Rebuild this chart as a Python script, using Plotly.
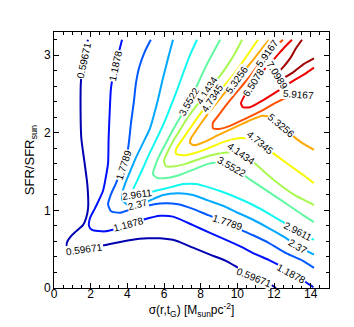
import plotly.graph_objects as go

# contour levels and their printed labels
levels = [0.59671, 1.1878, 1.7789, 2.37, 2.9611, 3.5522, 4.1434, 4.7345, 5.3256, 5.9167, 6.5078, 7.0989]
level_text = ["0.59671", "1.1878", "1.7789", "2.37", "2.9611", "3.5522", "4.1434", "4.7345", "5.3256", "5.9167", "6.5078", "7.0989"]

# contour paths (sigma, SFR), one per level
c1_x = [1.85, 1.69, 1.58, 1.47, 1.45, 1.49, 1.67, 1.82, 1.86, 1.75, 1.58, 1.20, 0.93, 0.71, 0.71, 0.98, 1.64, 2.51, 3.33, 4.20, 5.13, 5.78, 6.66, 7.58, 8.51, 9.38, 10.04, 10.91, 11.78, 12.11]
c1_y = [3.20, 3.03, 2.90, 2.67, 2.28, 1.93, 1.61, 1.33, 1.03, 0.90, 0.81, 0.73, 0.67, 0.59, 0.52, 0.48, 0.49, 0.54, 0.58, 0.62, 0.64, 0.64, 0.61, 0.52, 0.43, 0.35, 0.26, 0.14, 0.05, 0.00]

c2_x = [3.71, 3.55, 3.33, 3.11, 3.04, 2.98, 2.95, 2.85, 2.67, 2.24, 1.96, 1.91, 2.07, 2.78, 3.33, 4.04, 4.86, 5.78, 6.49, 7.58, 8.51, 9.38, 10.31, 10.86, 11.73, 12.22, 12.93, 13.64, 14.02, 14.15]
c2_y = [3.20, 3.05, 2.86, 2.58, 2.28, 1.93, 1.61, 1.46, 1.25, 1.03, 0.90, 0.80, 0.75, 0.73, 0.76, 0.82, 0.88, 0.93, 0.92, 0.81, 0.71, 0.62, 0.52, 0.45, 0.36, 0.30, 0.19, 0.09, 0.03, 0.01]

c3_x = [5.28, 4.96, 4.64, 4.47, 4.36, 4.20, 4.13, 4.04, 3.82, 3.60, 3.38, 3.11, 2.95, 3.11, 3.60, 4.15, 4.86, 5.78, 6.77, 7.58, 8.40, 9.49, 10.20, 10.86, 11.73, 12.66, 13.58, 14.18]
c3_y = [3.20, 3.05, 2.84, 2.64, 2.41, 2.13, 1.97, 1.80, 1.61, 1.48, 1.35, 1.21, 1.08, 0.99, 0.97, 1.01, 1.05, 1.09, 1.08, 1.02, 0.94, 0.84, 0.75, 0.68, 0.58, 0.45, 0.35, 0.26]

c4_x = [6.49, 6.22, 5.95, 5.62, 5.24, 4.86, 4.47, 4.15, 3.87, 3.71, 3.76, 4.09, 4.69, 5.24, 5.95, 6.77, 7.58, 8.40, 9.22, 9.93, 10.86, 11.73, 12.55, 13.31, 14.18]
c4_y = [3.20, 2.96, 2.71, 2.38, 2.06, 1.87, 1.68, 1.50, 1.34, 1.21, 1.12, 1.07, 1.07, 1.13, 1.20, 1.22, 1.20, 1.13, 1.06, 0.98, 0.88, 0.77, 0.66, 0.54, 0.43]

c5_x = [7.80, 7.47, 7.09, 6.71, 6.33, 5.95, 5.57, 5.18, 4.86, 4.53, 4.31, 4.26, 4.53, 5.02, 5.67, 6.38, 7.04, 7.75, 8.40, 9.17, 9.93, 10.86, 11.78, 12.55, 13.31, 14.18]
c5_y = [3.20, 3.03, 2.80, 2.55, 2.32, 2.10, 1.91, 1.72, 1.55, 1.38, 1.27, 1.22, 1.21, 1.22, 1.26, 1.30, 1.34, 1.34, 1.30, 1.24, 1.17, 1.07, 0.95, 0.84, 0.73, 0.62]

c6_x = [9.06, 8.67, 8.29, 7.86, 7.36, 6.93, 6.49, 6.11, 5.73, 5.51, 5.40, 5.62, 6.22, 6.88, 7.64, 8.40, 9.06, 9.66, 10.31, 11.13, 11.95, 12.77, 13.58, 14.18]
c6_y = [3.20, 3.03, 2.86, 2.64, 2.41, 2.22, 2.04, 1.87, 1.70, 1.57, 1.47, 1.42, 1.42, 1.46, 1.53, 1.60, 1.61, 1.56, 1.46, 1.33, 1.20, 1.07, 0.94, 0.85]

c7_x = [10.26, 9.88, 9.38, 8.84, 8.35, 7.86, 7.36, 6.93, 6.49, 6.17, 6.00, 6.11, 6.60, 7.31, 8.13, 8.95, 9.60, 10.20, 10.75, 11.46, 12.22, 13.04, 14.18]
c7_y = [3.20, 3.03, 2.84, 2.67, 2.54, 2.38, 2.22, 2.06, 1.89, 1.74, 1.64, 1.57, 1.57, 1.61, 1.68, 1.73, 1.75, 1.74, 1.65, 1.50, 1.35, 1.21, 1.07]

c8_x = [11.13, 10.80, 10.37, 9.82, 9.22, 8.67, 8.18, 7.75, 7.31, 6.93, 6.66, 6.66, 7.04, 7.69, 8.40, 9.22, 10.04, 10.75, 11.24, 11.67, 12.28, 13.04, 13.69, 14.18]
c8_y = [3.20, 3.09, 2.94, 2.76, 2.59, 2.45, 2.31, 2.17, 2.02, 1.89, 1.79, 1.73, 1.71, 1.74, 1.80, 1.88, 1.93, 1.92, 1.88, 1.79, 1.68, 1.55, 1.44, 1.35]

c9_x = [11.73, 11.46, 11.13, 10.58, 9.98, 9.44, 8.95, 8.51, 8.07, 7.69, 7.47, 7.42, 7.64, 8.18, 8.95, 9.77, 10.58, 11.40, 11.95, 12.39, 12.88, 13.53, 14.18]
c9_y = [3.20, 3.12, 3.02, 2.86, 2.69, 2.55, 2.41, 2.28, 2.14, 2.01, 1.93, 1.87, 1.84, 1.88, 1.97, 2.06, 2.15, 2.22, 2.19, 2.10, 1.99, 1.87, 1.78]

c10_x = [12.49, 12.06, 11.62, 11.18, 10.69, 10.20, 9.71, 9.27, 8.89, 8.67, 8.67, 9.00, 9.60, 10.42, 11.29, 12.11, 12.77, 13.31, 13.86, 14.18]
c10_y = [3.20, 3.11, 3.02, 2.89, 2.73, 2.59, 2.45, 2.32, 2.20, 2.13, 2.06, 2.05, 2.09, 2.18, 2.28, 2.39, 2.46, 2.50, 2.53, 2.53]

c11_x = [12.98, 12.60, 12.11, 11.57, 11.07, 10.69, 10.37, 10.20, 10.31, 10.69, 11.40, 12.22, 13.04, 13.69, 14.18]
c11_y = [3.20, 3.11, 2.98, 2.84, 2.71, 2.59, 2.47, 2.38, 2.33, 2.33, 2.42, 2.54, 2.67, 2.76, 2.84]

c12_x = [13.53, 13.20, 12.88, 12.55, 12.22, 12.17, 12.49, 13.04, 13.64, 14.18]
c12_y = [3.20, 3.09, 2.96, 2.86, 2.77, 2.72, 2.71, 2.78, 2.89, 2.96]

paths_x = [c1_x, c2_x, c3_x, c4_x, c5_x, c6_x, c7_x, c8_x, c9_x, c10_x, c11_x, c12_x]
paths_y = [c1_y, c2_y, c3_y, c4_y, c5_y, c6_y, c7_y, c8_y, c9_y, c10_y, c11_y, c12_y]

# where along each path (fractional point index) a label sits, and its rotation
label_at = [[1.7, 16, 27], [2, 15, 26], [8.2, 21], [11.8, 23], [12.0, 24], [4, 17],
            [4, 17], [5, 18], [4, 19], [2, 17], [4.5], [4.5]]
label_rot = [[-78, -8, 22], [-78, -15, 28], [-72, 18], [-15, 30], [-8, 27], [-60, 30],
             [-57, 35], [-57, 40], [-55, 40], [-55, 5], [-58], [58]]

colors = ["#0000b0", "#0010ff", "#0058ff", "#00a8ff", "#10f8f0", "#60f8a0",
          "#a8f850", "#f8f800", "#ffa800", "#ff5000", "#f00000", "#a00000"]

FONT = "Liberation Sans, Arial, Helvetica, sans-serif"

fig = go.Figure()
for k in range(len(levels)):
    fig.add_trace(go.Scatter(
        x=paths_x[k], y=paths_y[k], mode="lines",
        line=dict(color=colors[k], width=2, shape="spline", smoothing=0.6),
        name=level_text[k], showlegend=False, hoverinfo="skip"))

annotations = []
for k in range(len(levels)):
    px, py = paths_x[k], paths_y[k]
    for pos, rot in zip(label_at[k], label_rot[k]):
        i = int(pos)
        f = pos - i
        if i >= len(px) - 1:
            i, f = len(px) - 2, 1.0
        ax = px[i] + f * (px[i + 1] - px[i])
        ay = py[i] + f * (py[i + 1] - py[i])
        annotations.append(dict(
            x=ax, y=ay, xref="x", yref="y", text=level_text[k], showarrow=False,
            textangle=rot, bgcolor="white", borderpad=0,
            font=dict(family=FONT, size=10, color="black")))

fig.update_layout(
    width=354, height=327,
    margin=dict(l=46, r=33, t=24, b=47),
    paper_bgcolor="white", plot_bgcolor="white",
    font=dict(family=FONT, size=12, color="black"),
    annotations=annotations,
    xaxis=dict(
        range=[0, 15], tickvals=[0, 2, 4, 6, 8, 10, 12, 14],
        ticks="inside", ticklen=5, tickcolor="black", mirror="allticks",
        showline=True, linecolor="black", linewidth=1, showgrid=False, zeroline=False,
        minor=dict(dtick=0.5, ticks="inside", ticklen=3, tickcolor="black"),
        tickfont=dict(size=12), ticklabelstandoff=-5,
        title=dict(text="σ(r,t<sub>G</sub>) [M<sub>sun</sub>pc<sup>-2</sup>]", font=dict(size=12), standoff=4),
    ),
    yaxis=dict(
        range=[0, 3.3], tickvals=[0, 1, 2, 3],
        ticks="inside", ticklen=5, tickcolor="black", mirror="allticks",
        showline=True, linecolor="black", linewidth=1, showgrid=False, zeroline=False,
        minor=dict(dtick=0.2, ticks="inside", ticklen=3, tickcolor="black"),
        tickfont=dict(size=12),
        title=dict(text="SFR/SFR<sub>sun</sub>", font=dict(size=13), standoff=6),
    ),
)

fig.write_html("out.html")
